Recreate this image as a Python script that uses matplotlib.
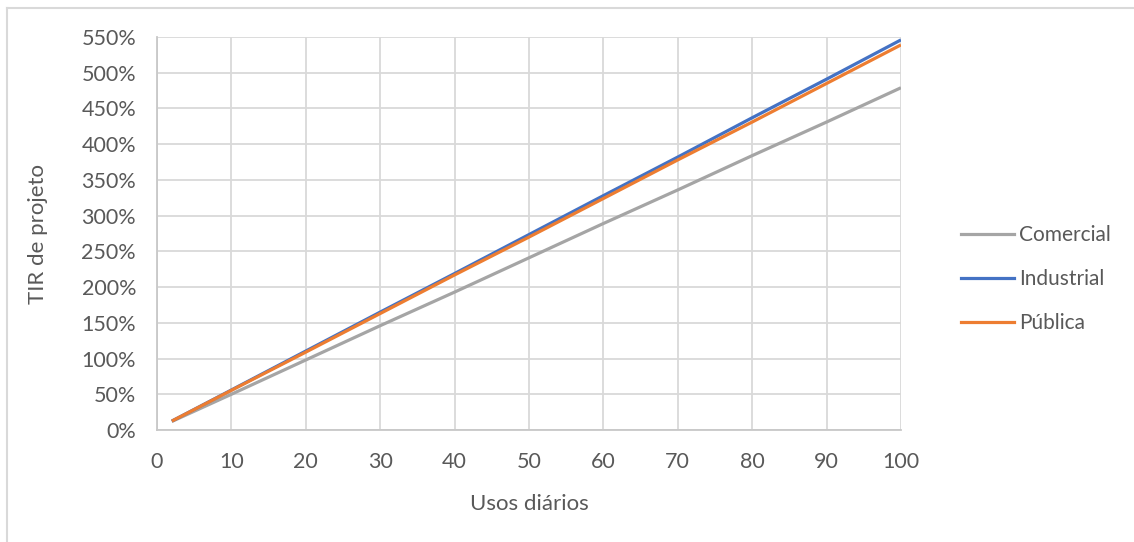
import numpy as np
import matplotlib.pyplot as plt
from matplotlib.ticker import FuncFormatter, MultipleLocator
from matplotlib.lines import Line2D

# Daily uses vs project IRR (%)
usos = [2, 10, 20, 30, 40, 50, 60, 70, 80, 90, 100]
comercial = [12, 50, 98, 146, 193, 241, 289, 336, 384, 431, 479]
industrial = [12.5, 56, 110.5, 165, 219, 273.5, 328, 382, 437, 491, 546]
publica = [12.5, 55.5, 109, 163, 217, 270, 324, 378, 431, 485, 539]

series = [("Comercial", comercial, "#a5a5a5"),
          ("Industrial", industrial, "#4472c4"),
          ("Pública", publica, "#ed7d31")]

plt.rcParams['font.family'] = ['Lato', 'DejaVu Sans']
txt = '#595959'
grid = '#d9d9d9'
fs = 15.5

fig = plt.figure(figsize=(11.34, 5.42), dpi=100, facecolor='white')
ax = fig.add_axes([0.1384, 0.2066, 0.6561, 0.7251])

for name, vals, col in series:
    ax.plot(usos, vals, color=col, lw=2.3, label=name, solid_capstyle='butt', zorder=3)

ax.set_xlim(0, 100)
ax.set_ylim(0, 550)
ax.xaxis.set_major_locator(MultipleLocator(10))
ax.yaxis.set_major_locator(MultipleLocator(50))
ax.yaxis.set_major_formatter(FuncFormatter(lambda v, p: f"{v:.0f}%"))
ax.grid(True, color=grid, lw=1.3)
ax.set_axisbelow(True)
for s in ['top', 'right']:
    ax.spines[s].set_visible(False)
for s in ['left', 'bottom']:
    ax.spines[s].set_color('#c8c8c8')
    ax.spines[s].set_linewidth(1.3)
ax.tick_params(length=0, labelsize=fs, colors=txt)
ax.tick_params(axis='y', pad=15)
ax.tick_params(axis='x', pad=16)

ax.set_xlabel("Usos diários", fontsize=16, color=txt, labelpad=16)
ax.set_ylabel("TIR de projeto", fontsize=16, color=txt, labelpad=24)

handles = [Line2D([], [], color=c, lw=2.3) for _, _, c in series]
fig.legend(handles, [n for n, _, _ in series], loc='center left',
           bbox_to_anchor=(0.831, 0.485), frameon=False, fontsize=15,
           labelcolor=txt, handlelength=2.55, handletextpad=0.25,
           labelspacing=1.15)

# chart area border
fig.add_artist(Line2D([7 / 1134, 1.0], [1 - 8 / 542, 1 - 8 / 542], color=grid, lw=1.5))
fig.add_artist(Line2D([7 / 1134, 7 / 1134], [1 - 8 / 542, 0.0], color=grid, lw=1.5))

fig.savefig("out.png", dpi=100, facecolor='white')
